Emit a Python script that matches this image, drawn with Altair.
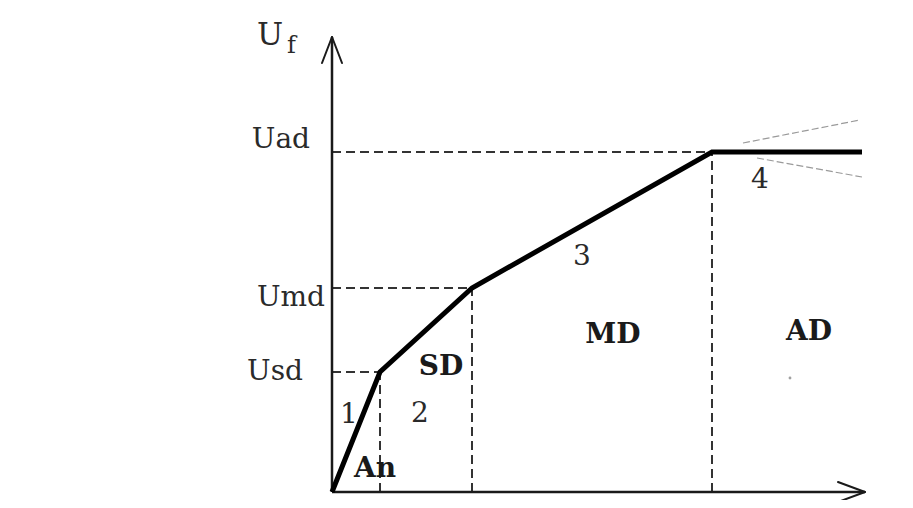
import altair as alt
import pandas as pd

# Piecewise characteristic (origin at the axis crossing)
curve_x = [0, 48, 140, 380, 530]
curve_y = [0, 120, 204, 340, 340]

# Levels on the vertical axis
level_names = ["Usd", "Umd", "Uad"]
level_values = [120, 204, 340]
level_label_x = [-29, -7, -22]
level_label_dy = [-8, -18, 4]

# Zone boundaries on the horizontal axis
boundary_x = [48, 140, 380]

# Zone labels (bold)
zone_labels = ["An", "SD", "MD", "AD"]
zone_x = [43, 109, 281, 477]
zone_y = [15, 117, 149, 152]

# Segment numbers
segment_labels = ["1", "2", "3", "4"]
segment_x = [17, 88, 250, 428]
segment_y = [69, 70, 227, 304]

# Axis extents
x_axis_end = 533
y_axis_end = 455

# Diverging tolerance lines after point 4
fan_x = [411, 425]
fan_y = [349, 334]
fan_x2 = [528, 530]
fan_y2 = [372, 315]

x_domain = [-324, 573]
y_domain = [-8, 484]

xs = alt.Scale(domain=x_domain, nice=False, zero=False)
ys = alt.Scale(domain=y_domain, nice=False, zero=False)
FONT = "DejaVu Serif"
INK = "#1a1a1a"


def X(f="x"):
    return alt.X(f"{f}:Q", scale=xs, axis=None)


def Y(f="y"):
    return alt.Y(f"{f}:Q", scale=ys, axis=None)


# axes
axes_df = pd.DataFrame({
    "x": [0, 0], "y": [0, 0],
    "x2": [x_axis_end, 0], "y2": [0, y_axis_end],
})
arrows_df = pd.DataFrame({
    "x": [x_axis_end, x_axis_end, 0, 0],
    "y": [0, 0, y_axis_end, y_axis_end],
    "x2": [x_axis_end - 27, x_axis_end - 27, -10, 10],
    "y2": [10, -10, y_axis_end - 26, y_axis_end - 26],
})
axes = alt.Chart(axes_df).mark_rule(color=INK, strokeWidth=2.5).encode(
    x=X(), y=Y(), x2="x2:Q", y2="y2:Q")
arrows = alt.Chart(arrows_df).mark_rule(color=INK, strokeWidth=2, strokeCap="round").encode(
    x=X(), y=Y(), x2="x2:Q", y2="y2:Q")

# dashed guides
h_df = pd.DataFrame({"x": [0] * 3, "x2": boundary_x, "y": level_values, "y2": level_values})
v_df = pd.DataFrame({"x": boundary_x, "x2": boundary_x, "y": [0] * 3, "y2": level_values})
dash_df = pd.concat([h_df, v_df], ignore_index=True)
dashes = alt.Chart(dash_df).mark_rule(color="#333333", strokeWidth=2, strokeDash=[9, 5]).encode(
    x=X(), y=Y(), x2="x2:Q", y2="y2:Q")

fan_df = pd.DataFrame({"x": fan_x, "y": fan_y, "x2": fan_x2, "y2": fan_y2})
fan = alt.Chart(fan_df).mark_rule(color="#9a9a9a", strokeWidth=1.2, strokeDash=[7, 3]).encode(
    x=X(), y=Y(), x2="x2:Q", y2="y2:Q")

# main curve
curve_df = pd.DataFrame({"x": curve_x, "y": curve_y, "o": list(range(len(curve_x)))})
curve = alt.Chart(curve_df).mark_line(color="black", strokeWidth=5, strokeJoin="miter").encode(
    x=X(), y=Y(), order="o:Q")

# texts
lvl_df = pd.DataFrame({"t": level_names, "x": level_label_x,
                       "y": [v + d for v, d in zip(level_values, level_label_dy)]})
lvl_text = alt.Chart(lvl_df).mark_text(font=FONT, fontSize=28, align="right",
                                       baseline="alphabetic", color="#2a2a2a").encode(
    x=X(), y=Y(), text="t:N")

uf_df = pd.DataFrame({"t": ["U", "f"], "x": [-75, -45], "y": [447, 439], "s": [31, 24]})
uf_text = alt.Chart(uf_df).mark_text(font=FONT, align="left", baseline="alphabetic",
                                     color="#2a2a2a").encode(
    x=X(), y=Y(), text="t:N", size=alt.Size("s:Q", scale=None, legend=None))

zone_df = pd.DataFrame({"t": zone_labels, "x": zone_x, "y": zone_y})
zone_text = alt.Chart(zone_df).mark_text(font=FONT, fontSize=28, fontWeight="bold", align="center",
                                         baseline="alphabetic", color=INK).encode(
    x=X(), y=Y(), text="t:N")

seg_df = pd.DataFrame({"t": segment_labels, "x": segment_x, "y": segment_y})
seg_text = alt.Chart(seg_df).mark_text(font=FONT, fontSize=28, align="center",
                                       baseline="alphabetic", color="#2a2a2a").encode(
    x=X(), y=Y(), text="t:N")

dot_df = pd.DataFrame({"x": [458], "y": [114]})
dot = alt.Chart(dot_df).mark_point(filled=True, size=8, color="#777777").encode(x=X(), y=Y())

chart = alt.layer(
    dashes, fan, axes, arrows, curve, lvl_text, uf_text, zone_text, seg_text, dot
).properties(
    width=897, height=492, padding=0,
    autosize=alt.AutoSizeParams(type="none"),
).configure_view(stroke="transparent", strokeWidth=0)

chart.save("out.html", embed_options={"renderer": "svg", "actions": False})
